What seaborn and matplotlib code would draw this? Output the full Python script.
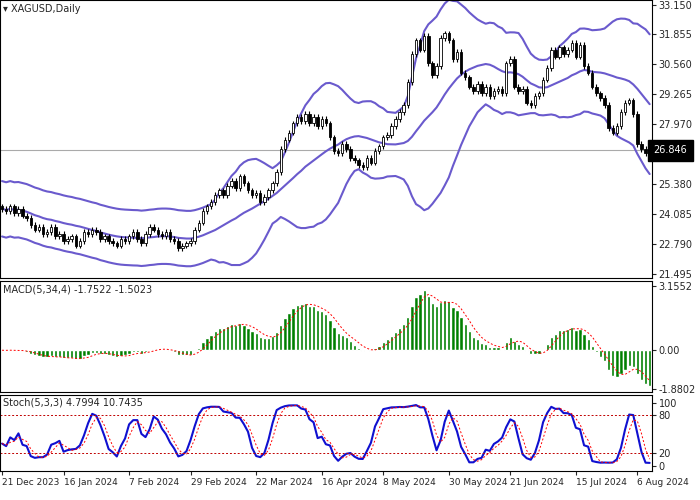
import matplotlib
matplotlib.use("Agg")
import matplotlib.pyplot as plt
import numpy as np
import pandas as pd
import seaborn as sns

# daily closes of XAGUSD
closes = [
    24.3, 24.2, 24.4, 24.1, 24.3, 24.0, 23.9, 23.6,
    23.4, 23.5, 23.2, 23.3, 23.5, 23.1, 23.2,
    22.9, 23.0, 23.1, 22.7, 22.9, 23.3, 23.2, 23.4,
    23.3, 23.0, 23.1, 22.9, 22.8, 22.7, 23.0, 22.9,
    23.1, 23.3, 23.0, 22.8, 23.2, 23.5, 23.4, 23.2,
    23.1, 23.3, 23.0, 22.9, 22.6, 22.7, 22.8, 22.9,
    23.4, 23.7, 24.2, 24.4, 24.6, 24.9,
    25.1, 24.9, 25.3, 25.5, 25.2, 25.7, 25.4, 25.1,
    24.9, 25.0, 24.6, 24.8, 25.1, 25.4,
    25.9, 26.9, 27.3, 27.6, 28.0, 28.3,
    28.1, 28.4, 28.0, 28.3, 27.9, 28.2, 28.0, 27.4,
    26.8, 26.7, 27.1, 26.9, 26.5, 26.4, 26.2, 26.1,
    26.5, 26.3, 26.8, 27.0, 27.4,
    27.5, 27.9, 28.2, 28.5, 28.8, 29.8, 31.0,
    31.6, 31.2, 31.8, 30.6, 30.1, 30.5,
    31.7, 31.9, 31.6, 30.8, 31.1, 30.2,
    30.0, 29.6, 29.4, 29.7, 29.3, 29.6, 29.2, 29.4,
    29.5, 29.3, 30.6, 30.8, 29.6,
    29.4, 29.5, 28.9, 28.8, 29.2, 29.3,
    29.9, 30.4, 31.2, 30.9, 31.3, 31.0,
    31.2, 31.5, 30.9, 31.4, 30.5, 30.2,
    29.6, 29.3, 29.1, 28.8, 27.8, 27.6, 27.9, 28.5,
    28.9, 29.0, 28.4, 27.1, 26.9, 26.7, 26.6,
]
first_open = 24.4
wick = 0.12
last_price = 26.846

date_labels = ["21 Dec 2023", "16 Jan 2024", "7 Feb 2024", "29 Feb 2024", "22 Mar 2024",
               "16 Apr 2024", "8 May 2024", "30 May 2024", "21 Jun 2024", "15 Jul 2024", "6 Aug 2024"]
date_pos = [0, 15, 31, 46, 62, 78, 93, 109, 124, 140, 155]
price_ticks = [33.150, 31.855, 30.560, 29.265, 27.970, 26.675, 25.380, 24.085, 22.790, 21.495]

df = pd.DataFrame({"close": closes})
df["i"] = np.arange(len(df))
df["open"] = df["close"].shift(1).fillna(first_open)
df["high"] = df[["open", "close"]].max(axis=1) + wick
df["low"] = df[["open", "close"]].min(axis=1) - wick

# Bollinger 20,2
mid = df["close"].rolling(20, min_periods=1).mean()
sd = df["close"].rolling(20, min_periods=6).std().bfill()
sd = np.maximum(sd, 0.6)
df["bb_mid"], df["bb_up"], df["bb_lo"] = mid, mid + 2 * sd, mid - 2 * sd

# MACD 5,34,4
macd = df["close"].ewm(span=5).mean() - df["close"].ewm(span=34).mean()
df["macd"] = macd
df["signal"] = macd.rolling(4, min_periods=1).mean()

# Stoch 5,3,3
ll = df["low"].rolling(5, min_periods=1).min()
hh = df["high"].rolling(5, min_periods=1).max()
k = 100 * (df["close"] - ll) / (hh - ll)
df["k"] = k.rolling(3, min_periods=1).mean()
df["d"] = df["k"].rolling(3, min_periods=1).mean()

sns.set_style("white")
fig = plt.figure(figsize=(7, 5), dpi=100)
L, W = 0.0, 0.931
ax1 = fig.add_axes([L, 0.444, W, 0.556])
ax2 = fig.add_axes([L, 0.216, W, 0.222])
ax3 = fig.add_axes([L, 0.058, W, 0.152])
band = "#6a5acd"

# candles
up = df["close"] >= df["open"]
ax1.vlines(df["i"], df["low"], df["high"], color="black", lw=0.8, zorder=2)
ax1.bar(df["i"], (df["close"] - df["open"]).abs(), bottom=df[["open", "close"]].min(axis=1),
        width=0.6, color=np.where(up, "white", "black"), edgecolor="black", lw=0.6, zorder=3)
for col in ["bb_up", "bb_mid", "bb_lo"]:
    sns.lineplot(data=df, x="i", y=col, ax=ax1, color=band, lw=1.5, zorder=1)
ax1.axhline(last_price, color="#aaaaaa", lw=0.8, zorder=0)
ax1.set_ylim(21.3, 33.35)
ax1.set_yticks(price_ticks)
ax1.set_yticklabels([f"{v:.3f}" for v in price_ticks])
ax1.text(1.003, (last_price - 21.3) / (33.35 - 21.3), f"{last_price:.3f}", transform=ax1.transAxes,
         va="center", ha="left", fontsize=7, color="white", backgroundcolor="black", zorder=10)
ax1.text(0.005, 0.985, "▾ XAGUSD,Daily", transform=ax1.transAxes, va="top", fontsize=7)

# MACD
ax2.bar(df["i"], df["macd"], width=0.8, color="#008000")
sns.lineplot(data=df, x="i", y="signal", ax=ax2, color="red", lw=0.7, linestyle=(0, (2, 2)))
ax2.set_ylim(-2.05, 3.4)
ax2.set_yticks([3.1552, 0.0, -1.8802])
ax2.set_yticklabels(["3.1552", "0.00", "-1.8802"])
ax2.text(0.005, 0.97, f"MACD(5,34,4) {df['macd'].iloc[-1]:.4f} {df['signal'].iloc[-1]:.4f}",
         transform=ax2.transAxes, va="top", fontsize=7)

# Stoch
sns.lineplot(data=df, x="i", y="k", ax=ax3, color="#1010d0", lw=1.5)
sns.lineplot(data=df, x="i", y="d", ax=ax3, color="red", lw=0.7, linestyle=(0, (2, 2)))
for lv in (20, 80):
    ax3.axhline(lv, color="#c00000", lw=0.7, linestyle=(0, (2, 2)))
ax3.set_ylim(-8, 112)
ax3.set_yticks([100, 80, 20, 0])
ax3.text(0.005, 0.97, f"Stoch(5,3,3) {df['k'].iloc[-1]:.4f} {df['d'].iloc[-1]:.4f}",
         transform=ax3.transAxes, va="top", fontsize=7)

for ax in (ax1, ax2, ax3):
    ax.set_xlim(-0.5, 158.5)
    ax.yaxis.tick_right()
    ax.tick_params(axis="y", labelsize=7, length=3, right=True, pad=2)
    ax.set_xlabel("")
    ax.set_ylabel("")
    for s in ax.spines.values():
        s.set_color("black")
        s.set_linewidth(0.8)
    if ax is not ax3:
        ax.set_xticks([])
ax3.set_xticks(date_pos)
ax3.set_xticklabels(date_labels)
ax3.tick_params(axis="x", labelsize=6.5, length=3, bottom=True, pad=2)
for lab in ax3.get_xticklabels():
    lab.set_horizontalalignment("left")

fig.savefig("out.png", dpi=100)
